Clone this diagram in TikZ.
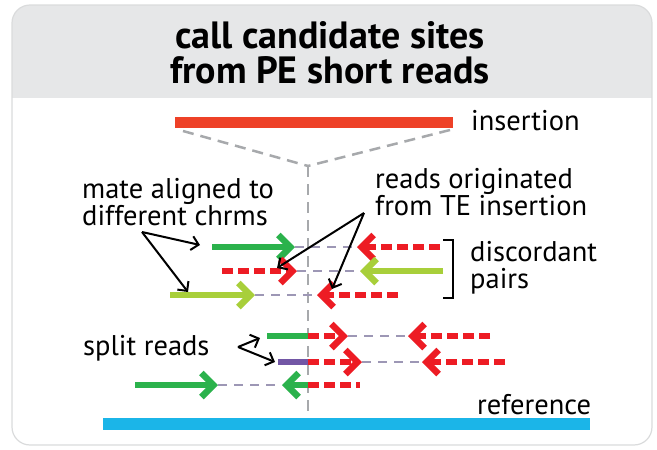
\documentclass[tikz,border=0pt]{standalone}
\usepackage{fontspec}
\setmainfont{PT Sans}
\usetikzlibrary{arrows.meta}
\definecolor{readgreen}{HTML}{2BB24C}
\definecolor{lightgreen}{HTML}{A8CF3A}
\definecolor{readred}{HTML}{ED1C24}
\definecolor{insred}{HTML}{EE4127}
\definecolor{refcyan}{HTML}{1BB5E8}
\definecolor{splitpurple}{HTML}{7256A5}
\definecolor{linkgray}{HTML}{9D97B5}
\definecolor{axisgray}{HTML}{A7A9AC}
\definecolor{headgray}{HTML}{E6E7E8}
\definecolor{framegray}{HTML}{DADBDC}

\begin{document}
\begin{tikzpicture}[x=1pt,y=-1pt,
  chev/.tip={Straight Barb[length=12pt,width=24pt]},
  read/.style={line width=6.5pt},
  headed/.style={read,-{chev}},
  dashed read/.style={dash pattern=on 11pt off 5pt},
  link/.style={linkgray,line width=2pt,dash pattern=on 9pt off 7pt},
  guide/.style={axisgray,line width=2.5pt,dash pattern=on 11pt off 7pt},
  note/.style={line width=2pt,-{Straight Barb[length=7pt,width=14pt]}},
  lbl/.style={font=\fontsize{28.5}{27}\selectfont,align=left,inner sep=0pt},
]
\useasboundingbox (0,0) rectangle (657,450);

% panel with grey header
\begin{scope}
  \clip[rounded corners=18pt] (12,5) rectangle (652,445);
  \fill[white] (12,5) rectangle (652,445);
  \fill[headgray] (12,5) rectangle (652,98);
\end{scope}
\draw[framegray,line width=1.2pt,rounded corners=18pt] (12,5) rectangle (652,445);

% multi-line nodes: the base anchor sits on the last line
\node[font=\bfseries\fontsize{38}{35}\selectfont,align=center,anchor=base,inner sep=0pt]
  (title) at (330,83) {call candidate sites\\from PE short reads};

% insertion and its projection onto the reference
\coordinate (insL) at (175,122);
\coordinate (insR) at (453,122);
\coordinate (funL) at (183,131);
\coordinate (funR) at (450,130);
\coordinate (apex) at (308,166);
\coordinate (axisEnd) at (308,418);
\draw[guide] (funL) -- (apex);
\draw[guide] (funR) -- (apex);
\draw[guide] (apex) -- (axisEnd);
\draw[insred,line width=11pt] (insL) -- (insR);
\node[lbl,anchor=base west] (insLbl) at (471,130) {insertion};

\coordinate (refL) at (103,424);
\coordinate (refR) at (590,424);
\draw[refcyan,line width=12pt] (refL) -- (refR);
\node[lbl,anchor=base west] (refLbl) at (477,414) {reference};

% discordant pairs
\coordinate (d1a) at (212,247); \coordinate (d1b) at (295,247);
\coordinate (d1c) at (357,247); \coordinate (d1d) at (440,247);
\coordinate (d2a) at (222,271); \coordinate (d2b) at (297,271);
\coordinate (d2c) at (360,271); \coordinate (d2d) at (443,271);
\coordinate (d3a) at (170,295); \coordinate (d3b) at (255,295);
\coordinate (d3c) at (317,295); \coordinate (d3d) at (398,295);
\draw[link] (d1b) -- (d1c);
\draw[link] (d2b) -- (d2c);
\draw[link] (d3b) -- (d3c);
\draw[headed,readgreen] (d1a) -- (d1b);
\draw[headed,readred,dashed read] (d1d) -- (d1c);
\draw[headed,readred,dashed read] (d2a) -- (d2b);
\draw[headed,lightgreen] (d2d) -- (d2c);
\draw[headed,lightgreen] (d3a) -- (d3b);
\draw[headed,readred,dashed read] (d3d) -- (d3c);

\coordinate (brT) at (443,240);
\coordinate (brB) at (443,298);
\draw[line width=2pt] (brT) -| (453,298) -- (brB);
\node[lbl,anchor=base west] (discLbl) at (470,288) {discordant\\pairs};

% split reads
\coordinate (s1a) at (267,336); \coordinate (s1m) at (308,336);
\coordinate (s1b) at (348,336); \coordinate (s1c) at (408,336);
\coordinate (s1d) at (490,336);
\coordinate (s2a) at (278,362); \coordinate (s2m) at (308,362);
\coordinate (s2b) at (362,362); \coordinate (s2c) at (422,362);
\coordinate (s2d) at (505,362);
\coordinate (s3a) at (135,385); \coordinate (s3b) at (218,385);
\coordinate (s3c) at (282,385); \coordinate (s3m) at (308,385);
\coordinate (s3d) at (360,385);
\draw[link] (s1b) -- (s1c);
\draw[link] (s2b) -- (s2c);
\draw[link] (s3b) -- (s3c);
\draw[read,readgreen] (s1a) -- (s1m);
\draw[headed,readred,dashed read] (s1m) -- (s1b);
\draw[headed,readred,dashed read] (s1d) -- (s1c);
\draw[read,splitpurple] (s2a) -- (s2m);
\draw[headed,readred,dashed read] (s2m) -- (s2b);
\draw[headed,readred,dashed read] (s2d) -- (s2c);
\draw[headed,readgreen] (s3a) -- (s3b);
\draw[headed,readgreen] (s3m) -- (s3c);
\draw[read,readred,dashed read] (s3m) -- (s3d);

% annotations
\node[lbl,anchor=base west] (mateLbl) at (82,225) {mate aligned to\\different chrms};
\coordinate (mateApex) at (142,232);
\coordinate (mateT1) at (200,245);
\coordinate (mateT2) at (188,292);
\draw[note] (mateApex) -- (mateT1);
\draw[note] (mateApex) -- (mateT2);

\node[lbl,anchor=base west] (teLbl) at (375,215) {reads originated\\from TE insertion};
\coordinate (teApex) at (364,213);
\coordinate (teT1) at (277,268);
\coordinate (teT2) at (332,289);
\draw[note] (teApex) -- (teT1);
\draw[note] (teApex) -- (teT2);

\node[lbl,anchor=base west] (splitLbl) at (83,355) {split reads};
\coordinate (splitApex) at (238,347);
\coordinate (splitT1) at (260,338);
\coordinate (splitT2) at (275,362);
\draw[note] (splitApex) -- (splitT1);
\draw[note] (splitApex) -- (splitT2);
\end{tikzpicture}
\end{document}
